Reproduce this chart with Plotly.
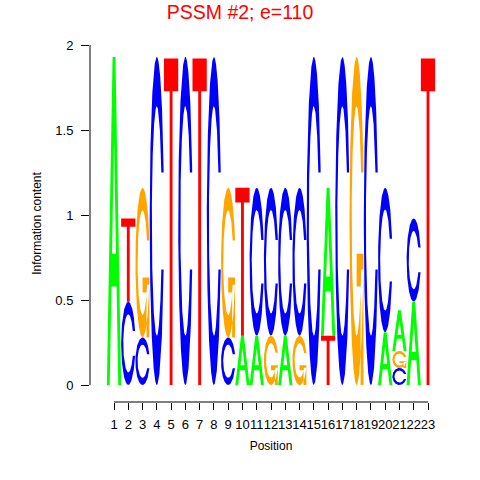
import numpy as np
import plotly.graph_objects as go

# information content per letter, positions 1..23
positions = list(range(1, 24))
ht_A = [1.93, 0, 0, 0, 0, 0, 0, 0, 0, 0.29, 0.29, 0, 0.29, 0, 0, 0.87, 0, 0, 0, 0.31, 0.24, 0.49, 0]
ht_C = [0, 0.49, 0.28, 1.93, 0, 1.93, 0, 1.93, 0.28, 0, 0.87, 0.87, 0.87, 0.87, 1.93, 0, 1.93, 0, 1.93, 0.85, 0.10, 0.49, 0]
ht_G = [0, 0, 0.88, 0, 0, 0, 0, 0, 0.88, 0, 0, 0.29, 0, 0.29, 0, 0, 0, 1.93, 0, 0, 0.10, 0, 0]
ht_T = [0, 0.49, 0, 0, 1.92, 0, 1.92, 0, 0, 0.87, 0, 0, 0, 0, 0, 0.29, 0, 0, 0, 0, 0, 0, 1.92]
y_ticks = [0, 0.5, 1, 1.5, 2]
y_ticktext = ["0", "0.5", "1", "1.5", "2"]

colors = {"A": "#00FF00", "C": "#0000FF", "G": "#FFA500", "T": "#FF0000"}
FONT = "Liberation Sans, Arial, sans-serif"


# glyph outlines in a unit box (seqLogo style)
def glyph_c():
    a1 = np.linspace(0.3 + np.pi / 2, np.pi, 100)
    a2 = np.linspace(np.pi, 1.5 * np.pi, 100)
    xl = np.concatenate([0.5 + 0.5 * np.sin(a1), 0.5 + 0.5 * np.sin(a2)])
    yl = np.concatenate([0.5 + 0.5 * np.cos(a1), 0.5 + 0.5 * np.cos(a2)])
    top = (0.5 + 0.5 * np.cos(a1)).max()
    x = np.concatenate([xl, xl[::-1]])
    y = np.concatenate([yl, 1 - yl[::-1]])
    xi1 = 0.5 + 0.35 * np.sin(a1)
    yi1 = 0.5 + 0.35 * np.cos(a1)
    keep = yi1 <= top
    xi1, yi1 = xi1[keep], yi1[keep].copy()
    yi1[0] = top
    xi = np.concatenate([xi1, 0.5 + 0.35 * np.sin(a2)])
    yi = np.concatenate([yi1, 0.5 + 0.35 * np.cos(a2)])
    x1 = np.concatenate([xi, xi[::-1]])
    y1 = np.concatenate([yi, 1 - yi[::-1]])
    return [(np.concatenate([x, x1[::-1]]), np.concatenate([y, y1[::-1]]))]


def glyph_g():
    parts = glyph_c()
    r1 = 0.5 + 0.5 * np.sin(0.3 + np.pi / 2)
    h1 = 0.4
    parts.append((np.array([r1, 0.5, 0.5, r1 - 0.2, r1 - 0.2, r1, r1]),
                  np.array([h1, h1, h1 - 0.1, h1 - 0.1, 0, 0, h1])))
    return parts


def glyph_a():
    x = 0.1 * np.array([0, 4, 6, 10, 8, 6.8, 3.2, 2, 0])
    y = 0.1 * np.array([0, 10, 10, 0, 0, 3, 3, 0, 0])
    return [(x, y)]


def glyph_a_hole():
    return [(0.1 * np.array([3.6, 5, 6.4, 3.6]), 0.1 * np.array([4, 7.5, 4, 4]))]


def glyph_t():
    x = 0.1 * np.array([0, 10, 10, 6, 6, 4, 4, 0, 0])
    y = 0.1 * np.array([10, 10, 9, 9, 0, 0, 9, 9, 10])
    return [(x, y)]


glyphs = {"A": glyph_a, "C": glyph_c, "G": glyph_g, "T": glyph_t}
heights = {"A": ht_A, "C": ht_C, "G": ht_G, "T": ht_T}

xs = {k: [] for k in "ACGT"}
ys = {k: [] for k in "ACGT"}
hole_x, hole_y = [], []


def place(parts, x0, y0, h, bx, by):
    for gx, gy in parts:
        bx.extend(list(x0 + gx) + [None])
        by.extend(list(y0 + h * gy) + [None])


for i, p in enumerate(positions):
    col = [(heights[b][i], b) for b in "ACGT"]
    col = sorted(col, key=lambda t: t[0])  # stable: smallest at the bottom
    base = 0.0
    for h, b in col:
        if h <= 0:
            continue
        place(glyphs[b](), p - 0.5, base, h, xs[b], ys[b])
        if b == "A":
            place(glyph_a_hole(), p - 0.5, base, h, hole_x, hole_y)
        base += h

fig = go.Figure()
for b in "ACGT":
    fig.add_trace(go.Scatter(
        x=xs[b], y=ys[b], mode="lines", fill="toself",
        fillcolor=colors[b], line=dict(width=0, color=colors[b]),
        hoverinfo="skip", showlegend=False,
    ))
fig.add_trace(go.Scatter(
    x=hole_x, y=hole_y, mode="lines", fill="toself",
    fillcolor="white", line=dict(width=0, color="white"),
    hoverinfo="skip", showlegend=False,
))

# R-style axis lines: only over the data extent
fig.add_shape(type="line", xref="paper", yref="y", x0=0, x1=0, y0=0, y1=2,
              line=dict(color="black", width=1))
fig.add_shape(type="line", xref="x", yref="paper", x0=1, x1=23, y0=0, y1=0,
              line=dict(color="black", width=1))

fig.update_layout(
    width=480, height=480,
    margin=dict(l=90, r=28, t=45, b=78),
    plot_bgcolor="white", paper_bgcolor="white",
    font=dict(family=FONT, size=12, color="black"),
    title=dict(text="PSSM #2; e=110", x=0.5, xanchor="center",
               y=1 - 12 / 480, yanchor="middle",
               font=dict(family=FONT, size=19.5, color="#FF0000")),
    xaxis=dict(
        range=[1 - 24 / 14.27, 23 + 24 / 14.27],
        tickmode="array", tickvals=positions,
        ticktext=[str(p) for p in positions],
        ticks="outside", ticklen=7, tickcolor="black", tickangle=0,
        ticklabelstandoff=3,
        showgrid=False, zeroline=False, showline=False, automargin=False,
        tickfont=dict(size=13),
        title=dict(text="Position", font=dict(size=12), standoff=11),
    ),
    yaxis=dict(
        range=[-0.1, 2],
        tickmode="array", tickvals=y_ticks, ticktext=y_ticktext,
        ticks="outside", ticklen=8, tickcolor="black",
        ticklabelstandoff=5,
        showgrid=False, zeroline=False, showline=False, automargin=False,
        tickfont=dict(size=13),
        title=dict(text="Information content", font=dict(size=12), standoff=11),
    ),
)

fig.write_html("out.html", config={"displayModeBar": False},
               post_script="document.body.style.margin = '0';")
